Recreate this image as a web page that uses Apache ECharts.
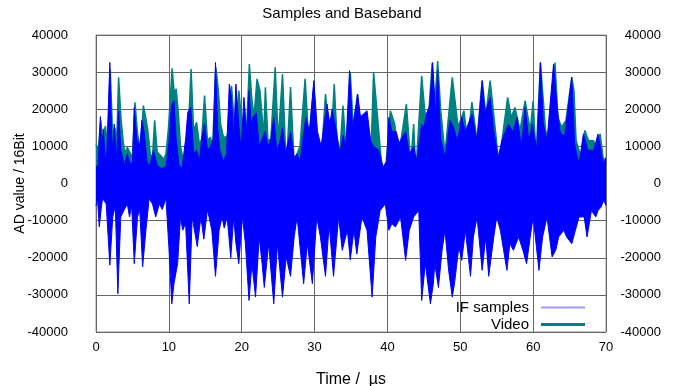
<!DOCTYPE html>
<html><head><meta charset="utf-8">
<script src="https://cdn.jsdelivr.net/npm/echarts@6/dist/echarts.min.js"></script>
<style>html,body{margin:0;padding:0;background:#fff}#c{width:681px;height:386px}</style>
</head><body><div id="c"></div>
<script>
// ---- data ----
const xTickValues = [0, 10, 20, 30, 40, 50, 60, 70];
const yTickValues = [-40000, -30000, -20000, -10000, 0, 10000, 20000, 30000, 40000];

// Video (baseband envelope) : [time µs, AD value]
const videoPoints = [
 [0.0,10500],[0.3,9000],[0.65,17000],[0.9,12000],[1.3,15500],[1.6,9000],[1.95,30800],[2.3,12000],
 [2.6,15000],[2.85,11500],[3.1,28600],[3.45,17000],[3.75,11000],[4.0,8000],[4.3,9800],[4.6,8500],
 [5.0,7000],[5.35,21900],[5.7,13500],[6.1,9000],[6.5,21000],[6.85,17500],[7.1,14500],[7.45,8000],
 [7.75,7000],[8.05,17000],[8.4,8500],[8.9,7500],[9.3,6500],[9.6,8000],[9.95,15000],[10.45,31000],
 [10.75,24000],[11.0,25500],[11.3,19000],[11.6,10000],[11.9,7000],[12.2,6000],[12.5,12000],[12.8,20000],
 [13.05,30800],[13.4,14000],[13.8,16500],[14.2,10500],[14.5,12000],[14.9,23700],[15.3,11500],[15.7,12500],
 [16.0,10000],[16.45,31300],[16.8,25000],[17.1,16000],[17.5,12500],[17.9,12500],[18.25,14000],[18.6,26300],
 [18.95,17000],[19.3,14000],[19.6,25000],[19.95,18000],[20.2,15000],[20.6,11000],[21.05,32200],[21.4,22500],
 [21.7,18000],[22.1,28200],[22.5,25000],[22.8,18000],[23.0,12000],[23.25,25900],[23.6,11500],[24.0,12000],
 [24.6,31300],[25.0,11500],[25.6,29500],[26.0,10000],[26.2,7000],[26.7,26000],[27.2,5300],[27.6,8000],
 [28.0,10000],[28.7,28200],[29.2,11500],[29.9,26400],[30.4,7000],[31.0,9000],[31.5,24100],[32.2,9000],
 [32.7,26800],[33.3,3500],[33.9,21000],[34.4,7000],[34.9,30000],[35.4,11500],[35.9,24100],[36.6,8000],
 [37.2,17800],[37.7,5300],[38.1,30000],[38.8,14300],[39.3,3000],[39.7,2600],[40.4,19600],[41.0,16000],
 [41.5,7000],[42.6,21400],[43.2,5300],[43.6,16000],[43.9,3000],[44.7,29000],[45.1,20000],[45.5,14300],
 [46.15,32500],[46.5,22000],[46.9,33000],[47.3,20000],[47.9,8000],[48.9,28600],[49.7,15200],[50.5,19600],
 [51.0,11500],[51.6,21900],[52.3,11500],[53.0,27700],[53.5,18400],[54.1,27700],[54.7,16500],[55.3,5300],
 [56.5,23200],[57.0,17800],[57.5,20500],[58.2,14300],[58.9,22300],[59.6,14300],[60.0,22300],[60.4,7000],
 [61.0,32600],[61.7,14300],[62.3,11500],[63.0,32600],[63.4,17800],[63.9,15200],[64.5,17000],[65.3,28600],
 [65.6,25000],[65.9,11500],[66.6,7000],[67.1,14300],[67.6,11500],[68.3,11500],[68.7,9700],[69.2,13400],
 [69.6,7000],[70.0,5800]
];

// IF samples, positive peaks : [time µs, AD value]
const ifUpperPoints = [
 [0.0,4500],[0.3,5000],[0.6,18000],[0.8,8000],[1.0,14700],[1.3,6000],[1.5,9000],[1.9,32600],
 [2.2,8000],[2.5,16000],[2.8,6000],[3.1,19600],[3.4,9000],[3.9,5000],[4.3,8000],[4.6,6000],
 [5.0,5000],[5.25,20500],[5.6,12000],[6.0,10000],[6.3,17000],[6.6,14000],[7.0,6000],[7.3,4500],
 [7.9,8900],[8.4,5000],[9.0,4000],[9.6,4500],[10.0,11000],[10.35,21000],[10.7,22300],[11.0,12000],
 [11.4,5000],[11.8,4000],[12.3,12000],[12.6,19200],[13.0,20500],[13.4,8000],[13.8,9000],[14.2,6000],
 [14.5,12000],[14.9,16000],[15.3,9000],[15.7,10000],[16.1,12000],[16.4,32600],[16.7,15000],[17.0,9000],
 [17.5,6000],[17.9,8000],[18.3,26800],[18.6,23000],[18.9,12000],[19.2,26800],[19.6,16000],[19.9,9000],
 [20.3,23200],[20.7,14000],[21.0,25000],[21.3,16000],[21.6,18000],[22.0,19000],[22.4,10000],[22.8,12000],
 [23.2,14000],[23.6,10000],[24.0,12000],[24.4,17800],[24.8,9000],[25.2,11000],[25.6,15000],[26.0,8000],
 [26.7,14000],[27.2,7000],[27.6,8000],[28.0,6000],[28.8,17800],[29.3,14000],[29.9,27700],[30.4,14000],
 [30.9,10000],[31.7,21400],[32.1,16000],[32.4,20000],[33.0,14000],[33.5,8000],[33.9,13000],[34.3,10000],
 [34.8,30400],[35.2,15000],[35.9,24100],[36.3,18000],[37.2,19600],[37.7,11500],[38.1,10000],[38.8,9000],
 [39.4,4500],[39.9,6000],[40.2,17800],[40.6,14000],[41.2,14000],[41.6,11000],[42.5,14000],[43.0,8000],
 [43.6,10000],[44.0,6000],[44.7,16000],[45.0,15000],[45.4,19000],[45.8,21000],[46.2,32600],[46.6,18000],
 [46.9,30400],[47.3,12000],[47.9,7000],[48.6,17000],[49.1,15000],[49.6,11500],[50.2,17800],[50.7,14000],
 [51.6,18700],[52.3,11500],[53.0,27700],[53.4,19000],[54.1,23200],[54.6,14000],[55.2,7000],[55.7,11500],
 [56.6,16000],[57.2,14000],[57.8,17800],[58.4,10000],[58.9,20500],[59.4,11500],[59.9,16000],[60.5,9000],
 [61.0,32600],[61.4,16000],[61.9,11500],[62.8,32200],[63.3,20500],[63.7,14000],[64.3,12500],[65.3,28600],
 [65.7,10500],[66.3,5300],[66.9,13400],[67.5,9000],[68.3,8900],[68.9,13300],[69.3,9000],[69.6,5300],
 [70.0,7000]
];

// IF samples, negative peaks : [time µs, AD value]
const ifLowerPoints = [
 [0.0,-6000],[0.2,-4000],[0.45,-11700],[0.7,-7000],[0.9,-4000],[1.4,-5500],[1.9,-22000],[2.3,-9000],
 [2.65,-6000],[3.0,-29700],[3.4,-9000],[3.9,-7000],[4.3,-5500],[4.6,-9000],[4.9,-6000],[5.25,-21600],
 [5.7,-9000],[6.0,-7000],[6.4,-22500],[6.85,-12600],[7.3,-4000],[7.75,-5500],[8.2,-9000],[8.7,-5500],
 [9.1,-7000],[9.6,-4000],[10.0,-17000],[10.4,-32400],[10.7,-27000],[11.2,-21600],[11.6,-9000],[11.9,-12600],
 [12.3,-10800],[12.8,-32400],[13.2,-9000],[13.9,-17000],[14.4,-9000],[14.8,-15000],[15.3,-7000],[15.9,-12600],
 [16.4,-25000],[16.9,-12600],[17.3,-9000],[17.6,-12000],[18.0,-9000],[18.5,-20000],[18.9,-9000],[19.2,-16000],
 [19.6,-21600],[20.1,-9000],[20.5,-16000],[21.0,-31500],[21.4,-21600],[21.9,-30600],[22.4,-14400],[22.8,-21600],
 [23.1,-28000],[23.7,-16200],[24.4,-32400],[24.9,-16200],[25.6,-30600],[26.1,-19800],[26.7,-25000],[27.2,-14400],
 [27.6,-9000],[28.5,-27000],[29.0,-16200],[29.7,-27000],[30.3,-9000],[30.8,-14400],[31.5,-25000],[32.0,-11000],
 [32.6,-25000],[33.3,-9000],[33.8,-18000],[34.5,-12600],[34.9,-20600],[35.4,-12600],[35.8,-19000],[36.5,-9000],
 [37.2,-12600],[37.9,-30600],[38.4,-14400],[39.0,-7300],[39.7,-5500],[40.2,-12600],[40.6,-10800],[41.1,-11700],
 [41.8,-9000],[42.5,-20700],[43.0,-12600],[43.6,-9000],[44.3,-7300],[44.7,-31500],[45.2,-21600],[45.9,-32400],
 [46.3,-27000],[46.5,-21600],[47.0,-28000],[47.5,-18000],[47.9,-12600],[48.4,-23400],[48.9,-30600],[49.2,-27000],
 [49.8,-17100],[50.2,-20700],[50.7,-12600],[51.4,-25000],[51.8,-14400],[52.3,-9000],[53.0,-23400],[53.5,-14400],
 [53.9,-25000],[54.6,-14400],[55.0,-9000],[55.5,-12600],[56.4,-23400],[56.8,-16200],[57.3,-18000],[58.0,-14400],
 [58.6,-18000],[59.1,-21600],[59.6,-14400],[60.0,-9000],[60.8,-23400],[61.3,-14400],[61.9,-9000],[62.6,-19800],
 [63.1,-18000],[63.5,-14400],[64.2,-12600],[64.6,-14400],[65.3,-16200],[65.8,-12600],[66.3,-9000],[67.0,-9000],
 [67.4,-14400],[68.0,-7300],[68.6,-9000],[68.9,-7300],[69.3,-6400],[69.7,-4500],[70.0,-6000]
];

// ---- chart ----
const FONT = 'Liberation Sans, Arial, sans-serif';
const BLUE = '#0000ff', TEAL = '#008080';
const chart = echarts.init(document.getElementById('c'), null, {renderer: 'canvas'});
const xMin = xTickValues[0], xMax = xTickValues[xTickValues.length - 1];
const yMin = yTickValues[0], yMax = yTickValues[yTickValues.length - 1];
const xStep = xTickValues[1] - xTickValues[0], yStep = yTickValues[1] - yTickValues[0];
const plain = v => String(v);

const baseY = {
  type: 'value', min: yMin, max: yMax, interval: yStep,
  axisLine: {show: false}, axisTick: {show: false}
};

chart.setOption({
  animation: false,
  backgroundColor: '#fff',
  title: {
    text: 'Samples and Baseband', left: 337, top: 1, textAlign: 'center',
    textStyle: {fontFamily: FONT, fontSize: 15, fontWeight: 'normal', color: '#000'}
  },
  grid: {left: 96, right: 75, top: 35, bottom: 54, show: true, borderColor: '#999', borderWidth: 1,
         containLabel: false, outerBoundsMode: 'none'},
  legend: [
    {data: [{name: 'IF samples', itemStyle: {color: '#9a9aff'}}], orient: 'vertical', align: 'right',
     right: 91, top: 295, icon: 'rect', itemWidth: 44, itemHeight: 2,
     textStyle: {fontFamily: FONT, fontSize: 15, color: '#000', padding: [0, 7, 0, 0]}},
    {data: [{name: 'Video', itemStyle: {color: TEAL}}], orient: 'vertical', align: 'right',
     right: 91, top: 312, icon: 'rect', itemWidth: 44, itemHeight: 3,
     textStyle: {fontFamily: FONT, fontSize: 15, color: '#000', padding: [0, 7, 0, 0]}}
  ],
  xAxis: {
    type: 'value', min: xMin, max: xMax, interval: xStep,
    name: 'Time /  \u00b5s', nameLocation: 'middle', nameGap: 40, nameMoveOverlap: false,
    nameTextStyle: {fontFamily: FONT, fontSize: 16, color: '#000'},
    axisLine: {show: false}, axisTick: {show: false},
    axisLabel: {fontFamily: FONT, fontSize: 13, color: '#000', margin: 9, formatter: plain},
    splitLine: {show: true, lineStyle: {color: '#666', width: 1}}
  },
  yAxis: [
    Object.assign({}, baseY, {
      position: 'left',
      name: 'AD value / 16Bit', nameLocation: 'middle', nameGap: 69, nameMoveOverlap: false,
      nameTextStyle: {fontFamily: FONT, fontSize: 14, color: '#000'},
      axisLabel: {fontFamily: FONT, fontSize: 13, color: '#000', margin: 28, formatter: plain},
      splitLine: {show: true, lineStyle: {color: '#666', width: 1}}
    }),
    Object.assign({}, baseY, {
      position: 'right',
      axisLabel: {fontFamily: FONT, fontSize: 13, color: '#000', margin: 55, align: 'right', formatter: plain},
      splitLine: {show: false}
    })
  ],
  series: [
    {name: 'Video', type: 'line', data: videoPoints, symbol: 'none', z: 2,
     lineStyle: {color: TEAL, width: 1.5}, itemStyle: {color: TEAL},
     areaStyle: {color: TEAL, opacity: 1, origin: 0}},
    {name: 'IF samples', type: 'line', data: ifUpperPoints, symbol: 'none', z: 3,
     lineStyle: {color: BLUE, width: 1}, itemStyle: {color: BLUE},
     areaStyle: {color: BLUE, opacity: 1, origin: -3000}},
    {name: 'IF samples', type: 'line', data: ifLowerPoints, symbol: 'none', z: 3,
     lineStyle: {color: BLUE, width: 1}, itemStyle: {color: BLUE},
     areaStyle: {color: BLUE, opacity: 1, origin: 3000}}
  ]
});
</script>
</body></html>
